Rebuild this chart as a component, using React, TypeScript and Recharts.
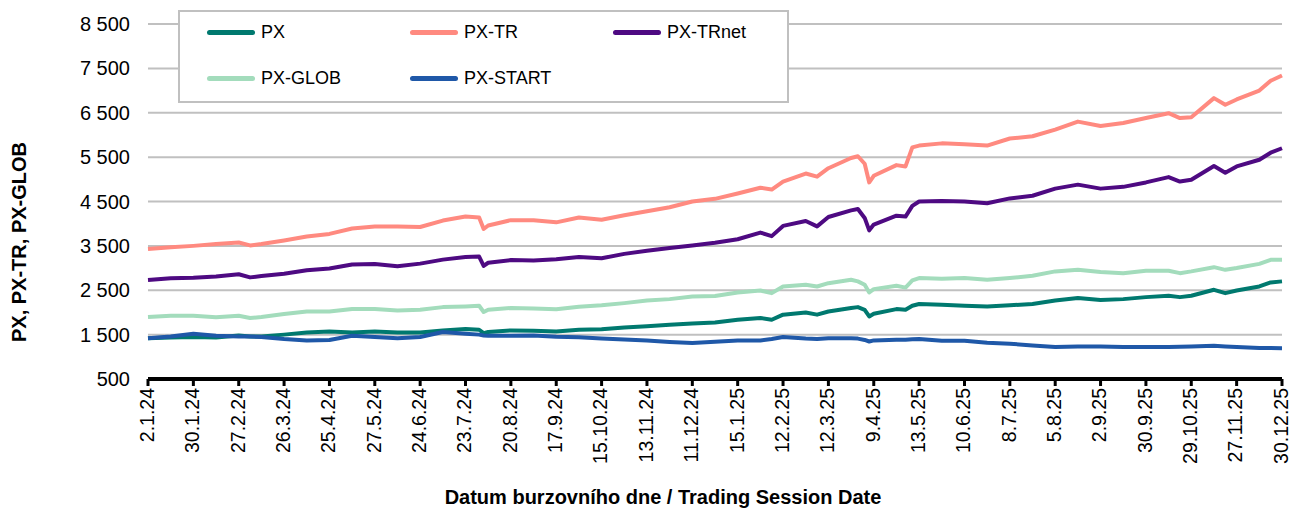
import { LineChart, Line, XAxis, YAxis, CartesianGrid, Legend, Label } from 'recharts';

// trading-day index (0 = 2.1.24, 500 = 30.12.25)
const days = [
  0, 10, 20, 30, 40, 45, 50, 60, 70, 80,
  90, 100, 110, 120, 130, 140, 146, 148, 150, 160,
  170, 180, 190, 200, 210, 220, 230, 240, 250, 260,
  270, 275, 280, 290, 295, 300, 310, 313, 316, 318,
  320, 330, 334, 337, 340, 350, 360, 370, 380, 390,
  400, 410, 420, 430, 440, 450, 455, 460, 470, 475,
  480, 490, 495, 500,
];

const px = [
  1420, 1435, 1445, 1435, 1480, 1460, 1460, 1500, 1550, 1570,
  1550, 1570, 1550, 1550, 1595, 1625, 1610, 1535, 1560, 1595,
  1590, 1570, 1610, 1620, 1660, 1690, 1720, 1750, 1775, 1835,
  1875, 1835, 1950, 2000, 1950, 2020, 2100, 2120, 2060, 1910,
  1970, 2075, 2060, 2150, 2190, 2175, 2150, 2135, 2160, 2190,
  2270, 2325, 2280, 2300, 2345, 2375, 2345, 2375, 2510, 2435,
  2495, 2585, 2675, 2700,
];

const pxTr = [
  3430, 3470, 3500, 3540, 3575, 3510, 3540, 3620, 3710, 3770,
  3890, 3935, 3935, 3925, 4070, 4160, 4140, 3880, 3960, 4080,
  4080, 4030, 4140, 4090, 4190, 4280, 4370, 4500, 4560, 4680,
  4810, 4770, 4950, 5130, 5060, 5250, 5480, 5520, 5350, 4930,
  5080, 5320, 5290, 5720, 5760, 5810, 5790, 5760, 5920, 5970,
  6120, 6300, 6200, 6270, 6380, 6490, 6380, 6400, 6830, 6680,
  6800, 7000, 7220, 7340,
];

const pxTrNet = [
  2730, 2770, 2780, 2810, 2860, 2790, 2820, 2870, 2950, 2990,
  3080, 3090, 3040, 3100, 3190, 3250, 3260, 3050, 3120, 3180,
  3170, 3200, 3250, 3220, 3320, 3390, 3450, 3510, 3570, 3650,
  3800, 3720, 3950, 4060, 3940, 4150, 4300, 4330, 4130, 3850,
  3980, 4180, 4160, 4400, 4500, 4510, 4500, 4460, 4570, 4630,
  4790, 4880, 4790, 4830, 4930, 5050, 4950, 4990, 5300, 5150,
  5290, 5440, 5600, 5700,
];

const pxGlob = [
  1895, 1925, 1925, 1890, 1925, 1875, 1895, 1965, 2020, 2020,
  2075, 2075, 2045, 2060, 2120, 2135, 2150, 2010, 2060, 2100,
  2090, 2070, 2130, 2160, 2210, 2270, 2300, 2360, 2370, 2450,
  2495, 2435, 2585, 2625, 2585, 2660, 2735, 2700, 2625, 2450,
  2525, 2600, 2560, 2720, 2775, 2760, 2775, 2735, 2775, 2825,
  2925, 2960, 2910, 2885, 2940, 2940, 2885, 2925, 3020, 2960,
  3000, 3095, 3185, 3190,
];

const pxStart = [
  1420, 1460, 1520, 1475, 1460, 1455, 1445, 1400, 1370, 1380,
  1475, 1445, 1420, 1445, 1560, 1520, 1500, 1480, 1475, 1475,
  1480, 1450, 1440, 1415, 1390, 1365, 1335, 1310, 1340, 1370,
  1370, 1400, 1445, 1410, 1400, 1420, 1420, 1410, 1380, 1345,
  1370, 1385, 1385, 1395, 1400, 1360, 1360, 1315, 1295, 1255,
  1220, 1235, 1235, 1220, 1220, 1220, 1225, 1235, 1250, 1235,
  1220, 1200, 1200, 1195,
];

const tickLabels = [
  '2.1.24', '30.1.24', '27.2.24', '26.3.24', '25.4.24', '27.5.24', '24.6.24',
  '23.7.24', '20.8.24', '17.9.24', '15.10.24', '13.11.24', '11.12.24', '15.1.25',
  '12.2.25', '12.3.25', '9.4.25', '13.5.25', '10.6.25', '8.7.25', '5.8.25',
  '2.9.25', '30.9.25', '29.10.25', '27.11.25', '30.12.25',
];
const tickDays = tickLabels.map((_, i) => i * 20);
const yTicks = [500, 1500, 2500, 3500, 4500, 5500, 6500, 7500, 8500];

const FONT = '"Liberation Sans", Arial, sans-serif';

const data = days.map((day, i) => ({
  day,
  PX: px[i],
  'PX-TR': pxTr[i],
  'PX-TRnet': pxTrNet[i],
  'PX-GLOB': pxGlob[i],
  'PX-START': pxStart[i],
}));

const series = [
  { key: 'PX', color: '#00796f' },
  { key: 'PX-TR', color: '#ff8a80' },
  { key: 'PX-TRnet', color: '#4e0a82' },
  { key: 'PX-GLOB', color: '#a3dcbc' },
  { key: 'PX-START', color: '#1f58a8' },
];

function DateTick({ x, y, payload }: any) {
  const label = tickLabels[Math.round(payload.value / 20)];
  return (
    <g transform={`translate(${x},${y})`}>
      <text transform="rotate(-90)" textAnchor="end" dy="0.3em" fontSize={19.5} fill="#000" fontFamily={FONT}>
        {label}
      </text>
    </g>
  );
}

const fmt = (v: number) => v >= 1000 ? `${Math.floor(v / 1000)} ${String(v % 1000).padStart(3, '0')}` : String(v);

// legend drawn in the original order, three per row
const renderLegend = () => (
  <div style={{ position: 'relative', boxSizing: 'border-box', width: 611, height: 93, border: '2px solid #c0c0c0', background: '#fff', fontFamily: FONT }}>
    {series.map((s, i) => {
      const col = i % 3;
      const row = Math.floor(i / 3);
      return (
        <div key={s.key} style={{ position: 'absolute', left: 27 + col * 203, top: 9 + row * 46, height: 22, display: 'flex', alignItems: 'center' }}>
          <span style={{ display: 'inline-block', width: 48, height: 5, borderRadius: 3, background: s.color }} />
          <span style={{ marginLeft: 6, fontSize: 18, color: '#000' }}>{s.key}</span>
        </div>
      );
    })}
  </div>
);

export default function App() {
  return (
    <div style={{ position: 'absolute', left: 0, top: 0, width: 1290, height: 508, background: '#fff' }}>
      <LineChart width={1290} height={508} data={data} margin={{ top: 24, right: 8, left: 0, bottom: 0 }}>
        <CartesianGrid vertical={false} stroke="#c0c0c0" strokeWidth={2} />
        <XAxis
          dataKey="day"
          type="number"
          domain={[0, 500]}
          ticks={tickDays}
          interval={0}
          height={129}
          tick={<DateTick />}
          tickSize={7}
          tickMargin={2}
          axisLine={{ stroke: '#000', strokeWidth: 4 }}
          tickLine={{ stroke: '#000', strokeWidth: 3 }}
        >
          <Label
            content={() => (
              <text x={663} y={497} textAnchor="middle" dominantBaseline="central" fontSize={20} fontWeight="bold" fontFamily={FONT} fill="#000">
                Datum burzovního dne / Trading Session Date
              </text>
            )}
          />
        </XAxis>
        <YAxis
          domain={[500, 8500]}
          ticks={yTicks}
          width={148}
          axisLine={false}
          tickLine={false}
          tickSize={0}
          tickMargin={18}
          tickFormatter={fmt}
          tick={{ fontSize: 20, fill: '#000', fontFamily: FONT }}
        >
          <Label
            content={() => (
              <text x={19} y={242} transform="rotate(-90, 19, 242)" textAnchor="middle" dominantBaseline="central" fontSize={20} fontWeight="bold" fontFamily={FONT} fill="#000">
                PX, PX-TR, PX-GLOB
              </text>
            )}
          />
        </YAxis>
        <Legend
          layout="horizontal"
          verticalAlign="middle"
          align="center"
          content={renderLegend}
          wrapperStyle={{ left: 178, top: 10, width: 611, height: 93 }}
        />
        {series.map((s) => (
          <Line
            key={s.key}
            type="linear"
            dataKey={s.key}
            name={s.key}
            stroke={s.color}
            strokeWidth={4}
            strokeLinejoin="round"
            dot={false}
            isAnimationActive={false}
          />
        ))}
      </LineChart>
    </div>
  );
}
